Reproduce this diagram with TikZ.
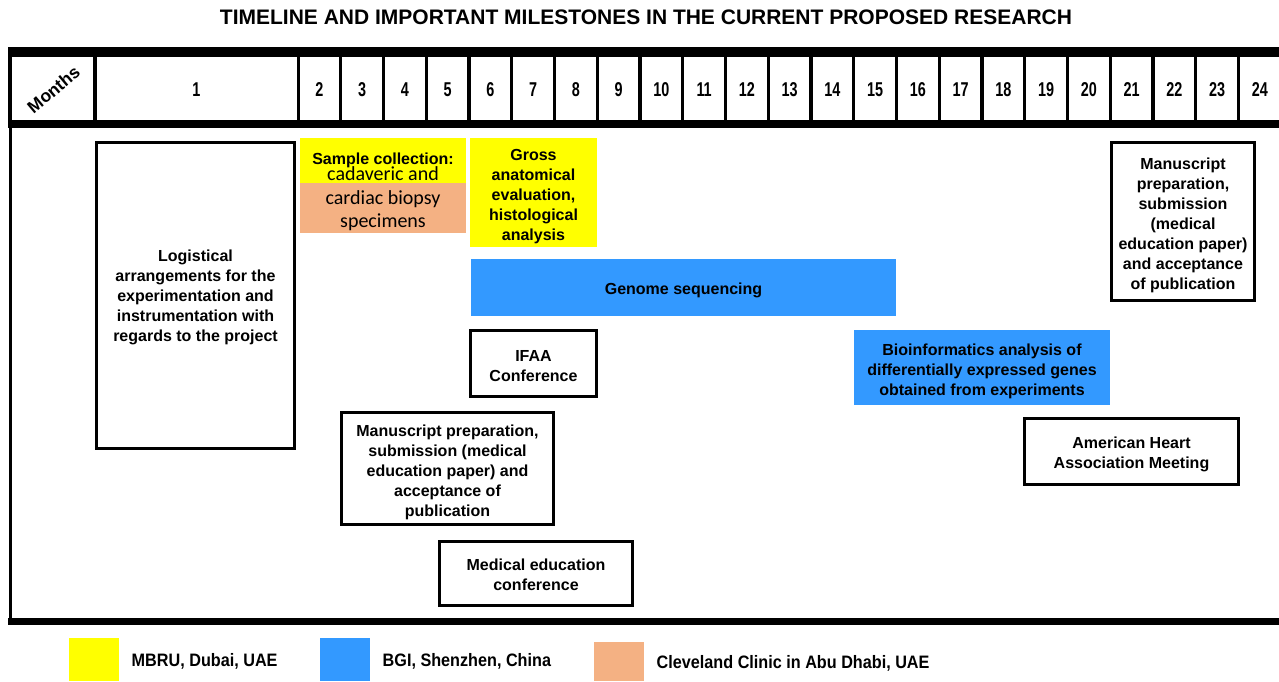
\documentclass[tikz,border=0pt]{standalone}
\usepackage{fontspec}
\setmainfont{Liberation Sans}
\newfontfamily\califont{Carlito}
\usepackage{tikz}
\usetikzlibrary{positioning}
\definecolor{mbruyellow}{RGB}{255,255,0}
\definecolor{bgiblue}{RGB}{51,153,255}
\definecolor{ccadsalmon}{RGB}{244,177,131}
\newcommand{\boxfont}{\fontsize{16}{20}\selectfont\bfseries}
\newcommand{\narrowtxt}[2]{\scalebox{#1}[1]{#2}}
\newcommand{\topstrut}[1]{\rule{0pt}{#1}}

\begin{document}
\begin{tikzpicture}[x=1pt, y=-1pt,
    month/.style={rectangle, fill=white, inner sep=0pt, minimum height=63pt, text height=16.5pt, font=\fontsize{20}{20}\selectfont\bfseries},
    task/.style={rectangle, fill=#1, inner sep=2pt, align=center, font=\boxfont},
    framed/.style={rectangle, draw=black, line width=3pt, fill=white, inner sep=2pt, align=center, font=\boxfont},
    key/.style={rectangle, fill=#1, inner sep=0pt, minimum width=50pt},
    keytext/.style={font=\fontsize{18}{18}\selectfont\bfseries, yshift=-2pt}
]
\path[use as bounding box] (0,0) rectangle (1279,681);
\clip (0,0) rectangle (1279,681);

% Title
\node[font=\fontsize{21}{21}\selectfont\bfseries] (title) at (646,17) {TIMELINE AND IMPORTANT MILESTONES IN THE CURRENT PROPOSED RESEARCH};

% Header row with the months
\fill[black] (8,47) rectangle (1295,128);
\node[month, minimum width=81pt] (months) at (52.5,88.5) {};
\node[rotate=40, font=\fontsize{17.5}{17.5}\selectfont\bfseries] (monthslabel) at (53.5,89.5) {Months};
\node[month, minimum width=200pt] (m1) at (196.5,88.5) {\narrowtxt{0.72}{1}};
\foreach \i in {2,...,24}{
    \pgfmathsetmacro\cx{298+(\i-2)*42.75+21.375}
    \node[month, minimum width=39.5pt] (m\i) at (\cx,88.5) {\narrowtxt{0.72}{\i}};
}

% Body frame
\draw[line width=3pt] (10,128) -- (10,620);
\fill[black] (8,618) rectangle (1295,625);

% Tasks
\node[framed, minimum width=198pt, minimum height=306pt] (logistic) at (195.5,295.5) {\topstrut{16pt}Logistical\\arrangements for the\\experimentation and\\instrumentation with\\regards to the project};

\node[task=mbruyellow, minimum width=166pt, minimum height=47pt] (sample) at (383,161.5) {\topstrut{21.5pt}Sample collection:\\[-4pt]{\califont\mdseries\fontsize{20}{20}\selectfont cadaveric and}};
\node[task=ccadsalmon, minimum width=166pt, minimum height=46pt, font=\califont\fontsize{20}{23}\selectfont] (specimen) at (383,208) {\topstrut{20pt}cardiac biopsy\\specimens};

\node[task=mbruyellow, minimum width=127pt, minimum height=109pt] (gross) at (533.5,192.5) {\topstrut{20pt}Gross\\anatomical\\evaluation,\\histological\\analysis};

\node[task=bgiblue, minimum width=425pt, minimum height=57pt] (genome) at (683.5,287.5) {\topstrut{17.5pt}Genome sequencing};

\node[framed, minimum width=126pt, minimum height=66pt] (ifaa) at (533.5,363.5) {\topstrut{15.7pt}IFAA\\Conference};

\node[framed, minimum width=212pt, minimum height=112pt] (msleft) at (447.5,468.5) {\topstrut{19.7pt}Manuscript preparation,\\submission (medical\\education paper) and\\acceptance of\\publication};

\node[framed, minimum width=193pt, minimum height=64pt] (medconf) at (536,573.5) {\topstrut{13.7pt}Medical education\\conference};

\node[task=bgiblue, minimum width=256pt, minimum height=75pt] (bioinfo) at (982,367.5) {\topstrut{18.7pt}Bioinformatics analysis of\\differentially expressed genes\\obtained from experiments};

\node[framed, minimum width=214pt, minimum height=66pt] (aha) at (1131.5,451.5) {\topstrut{17.7pt}American Heart\\Association Meeting};

\node[framed, minimum width=143pt, minimum height=158pt] (msright) at (1183,221.5) {\topstrut{18.7pt}Manuscript\\preparation,\\submission\\(medical\\education paper)\\and acceptance\\of publication};

% Legend
\node[key=mbruyellow, minimum height=43pt] (keyY) at (94,659.5) {};
\node[key=bgiblue, minimum height=43pt] (keyB) at (345,659.5) {};
\node[key=ccadsalmon, minimum height=39pt] (keyS) at (619,661.5) {};
\node[keytext, right=9pt of keyY] (keyYtext) {\narrowtxt{0.9}{MBRU, Dubai, UAE}};
\node[keytext, right=9pt of keyB] (keyBtext) {\narrowtxt{0.9}{BGI, Shenzhen, China}};
\node[keytext, right=9pt of keyS] (keyStext) {\narrowtxt{0.9}{Cleveland Clinic in Abu Dhabi, UAE}};

\end{tikzpicture}
\end{document}
